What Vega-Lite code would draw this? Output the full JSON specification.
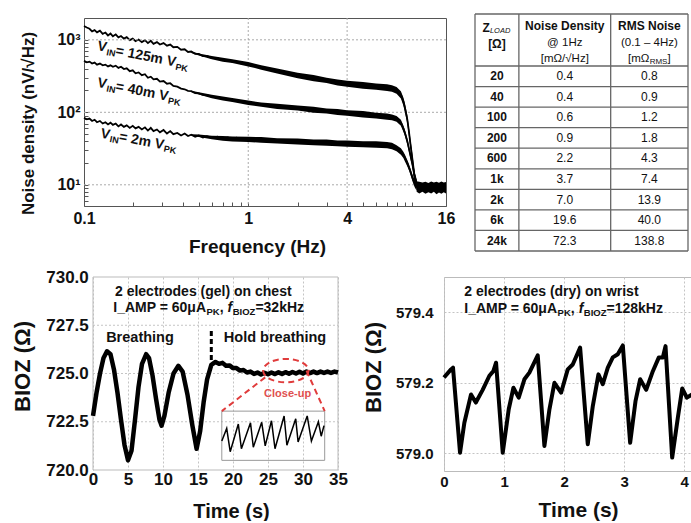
{
  "$schema": "https://vega.github.io/schema/vega-lite/v6.json",
  "background": "white",
  "padding": {"left": 11, "top": 13, "right": 0, "bottom": 0},
  "spacing": 11,
  "config": {
    "font": "Liberation Sans",
    "axis": {"labelColor": "#111", "titleColor": "#111", "labelFontWeight": "bold", "titleFontWeight": "bold", "labelFont": "Liberation Sans", "titleFont": "Liberation Sans"},
    "text": {"font": "Liberation Sans", "color": "#111"}
  },
  "datasets": {
    "noise": [
      {"s":"125","f":0.1,"v":1550},{"s":"125","f":0.104,"v":1480},{"s":"125","f":0.108,"v":1420},{"s":"125","f":0.112,"v":1310},{"s":"125","f":0.116,"v":1360},{"s":"125","f":0.12,"v":1270},{"s":"125","f":0.125,"v":1340},{"s":"125","f":0.13,"v":1210},{"s":"125","f":0.135,"v":1260},{"s":"125","f":0.14,"v":1150},{"s":"125","f":0.145,"v":1220},{"s":"125","f":0.15,"v":1120},{"s":"125","f":0.156,"v":1190},{"s":"125","f":0.162,"v":1080},{"s":"125","f":0.168,"v":1130},{"s":"125","f":0.175,"v":1040},{"s":"125","f":0.182,"v":1090},{"s":"125","f":0.19,"v":990},{"s":"125","f":0.198,"v":1040},{"s":"125","f":0.206,"v":960},{"s":"125","f":0.215,"v":1010},{"s":"125","f":0.225,"v":930},{"s":"125","f":0.235,"v":990},{"s":"125","f":0.245,"v":900},{"s":"125","f":0.255,"v":970},{"s":"125","f":0.265,"v":880},{"s":"125","f":0.278,"v":930},{"s":"125","f":0.29,"v":860},{"s":"125","f":0.305,"v":900},{"s":"125","f":0.32,"v":830},{"s":"125","f":0.335,"v":860},{"s":"125","f":0.35,"v":790},{"s":"125","f":0.37,"v":800},{"s":"125","f":0.39,"v":730},{"s":"125","f":0.41,"v":740},{"s":"125","f":0.43,"v":680},{"s":"125","f":0.45,"v":690},{"s":"125","f":0.475,"v":640},{"s":"125","f":0.5,"v":640},{"s":"125","f":0.53,"v":595},{"s":"125","f":0.56,"v":600},{"s":"125","f":0.6,"v":560},{"s":"125","f":0.65,"v":560},{"s":"125","f":0.7,"v":525},{"s":"125","f":0.75,"v":525},{"s":"125","f":0.8,"v":500},{"s":"125","f":0.85,"v":495},{"s":"125","f":0.9,"v":475},{"s":"125","f":0.95,"v":475},{"s":"125","f":1.0,"v":455},{"s":"125","f":1.2,"v":415},{"s":"125","f":1.5,"v":365},{"s":"125","f":2,"v":322},{"s":"125","f":2.5,"v":292},{"s":"125","f":3,"v":276},{"s":"125","f":3.5,"v":258},{"s":"125","f":4,"v":248},{"s":"125","f":5,"v":234},{"s":"125","f":6,"v":226},{"s":"125","f":7,"v":219},{"s":"125","f":7.5,"v":212},{"s":"125","f":8,"v":200},{"s":"125","f":8.5,"v":176},{"s":"125","f":8.8,"v":142},{"s":"125","f":9,"v":115},{"s":"125","f":9.3,"v":80},{"s":"125","f":9.5,"v":56},{"s":"125","f":9.7,"v":38},{"s":"125","f":10,"v":22},{"s":"125","f":10.3,"v":13},{"s":"125","f":10.6,"v":10},{"s":"125","f":11,"v":9.2},{"s":"125","f":12,"v":8.8},{"s":"125","f":13,"v":9.1},{"s":"125","f":14,"v":8.9},{"s":"125","f":15,"v":9.0},{"s":"125","f":16,"v":9.0},
      {"s":"40","f":0.1,"v":515},{"s":"40","f":0.104,"v":490},{"s":"40","f":0.108,"v":500},{"s":"40","f":0.112,"v":470},{"s":"40","f":0.116,"v":485},{"s":"40","f":0.12,"v":455},{"s":"40","f":0.125,"v":470},{"s":"40","f":0.13,"v":445},{"s":"40","f":0.135,"v":455},{"s":"40","f":0.14,"v":430},{"s":"40","f":0.145,"v":445},{"s":"40","f":0.15,"v":425},{"s":"40","f":0.156,"v":440},{"s":"40","f":0.162,"v":410},{"s":"40","f":0.168,"v":425},{"s":"40","f":0.175,"v":395},{"s":"40","f":0.182,"v":405},{"s":"40","f":0.19,"v":370},{"s":"40","f":0.198,"v":380},{"s":"40","f":0.206,"v":345},{"s":"40","f":0.215,"v":355},{"s":"40","f":0.225,"v":325},{"s":"40","f":0.235,"v":335},{"s":"40","f":0.245,"v":300},{"s":"40","f":0.255,"v":310},{"s":"40","f":0.265,"v":285},{"s":"40","f":0.278,"v":290},{"s":"40","f":0.29,"v":265},{"s":"40","f":0.305,"v":270},{"s":"40","f":0.32,"v":248},{"s":"40","f":0.335,"v":252},{"s":"40","f":0.35,"v":232},{"s":"40","f":0.37,"v":226},{"s":"40","f":0.39,"v":212},{"s":"40","f":0.41,"v":208},{"s":"40","f":0.43,"v":198},{"s":"40","f":0.45,"v":196},{"s":"40","f":0.475,"v":184},{"s":"40","f":0.5,"v":182},{"s":"40","f":0.53,"v":174},{"s":"40","f":0.56,"v":172},{"s":"40","f":0.6,"v":163},{"s":"40","f":0.65,"v":162},{"s":"40","f":0.7,"v":153},{"s":"40","f":0.75,"v":152},{"s":"40","f":0.8,"v":146},{"s":"40","f":0.85,"v":146},{"s":"40","f":0.9,"v":140},{"s":"40","f":0.95,"v":140},{"s":"40","f":1.0,"v":135},{"s":"40","f":1.2,"v":128},{"s":"40","f":1.5,"v":121},{"s":"40","f":2,"v":115},{"s":"40","f":2.5,"v":109},{"s":"40","f":3,"v":104},{"s":"40","f":3.5,"v":101},{"s":"40","f":4,"v":98},{"s":"40","f":5,"v":94},{"s":"40","f":6,"v":90},{"s":"40","f":7,"v":87},{"s":"40","f":7.5,"v":85},{"s":"40","f":8,"v":81},{"s":"40","f":8.5,"v":72},{"s":"40","f":8.8,"v":60},{"s":"40","f":9,"v":52},{"s":"40","f":9.3,"v":40},{"s":"40","f":9.5,"v":32},{"s":"40","f":9.7,"v":26},{"s":"40","f":10,"v":19},{"s":"40","f":10.3,"v":13},{"s":"40","f":10.6,"v":10},{"s":"40","f":11,"v":9.2},{"s":"40","f":12,"v":8.8},{"s":"40","f":13,"v":9.1},{"s":"40","f":14,"v":8.9},{"s":"40","f":15,"v":9.0},{"s":"40","f":16,"v":9.0},
      {"s":"2","f":0.1,"v":84},{"s":"2","f":0.104,"v":80},{"s":"2","f":0.108,"v":82},{"s":"2","f":0.112,"v":76},{"s":"2","f":0.116,"v":79},{"s":"2","f":0.12,"v":73},{"s":"2","f":0.125,"v":76},{"s":"2","f":0.13,"v":70},{"s":"2","f":0.135,"v":73},{"s":"2","f":0.14,"v":68},{"s":"2","f":0.145,"v":72},{"s":"2","f":0.15,"v":67},{"s":"2","f":0.156,"v":70},{"s":"2","f":0.162,"v":64},{"s":"2","f":0.168,"v":68},{"s":"2","f":0.175,"v":63},{"s":"2","f":0.182,"v":66},{"s":"2","f":0.19,"v":61},{"s":"2","f":0.198,"v":65},{"s":"2","f":0.206,"v":60},{"s":"2","f":0.215,"v":63},{"s":"2","f":0.225,"v":58},{"s":"2","f":0.235,"v":62},{"s":"2","f":0.245,"v":56},{"s":"2","f":0.255,"v":61},{"s":"2","f":0.265,"v":55},{"s":"2","f":0.278,"v":58},{"s":"2","f":0.29,"v":53},{"s":"2","f":0.305,"v":57},{"s":"2","f":0.32,"v":51},{"s":"2","f":0.335,"v":55},{"s":"2","f":0.35,"v":50},{"s":"2","f":0.37,"v":52},{"s":"2","f":0.39,"v":48},{"s":"2","f":0.41,"v":51},{"s":"2","f":0.43,"v":47},{"s":"2","f":0.45,"v":49},{"s":"2","f":0.475,"v":46},{"s":"2","f":0.5,"v":48},{"s":"2","f":0.53,"v":45},{"s":"2","f":0.56,"v":47},{"s":"2","f":0.6,"v":44.5},{"s":"2","f":0.65,"v":46},{"s":"2","f":0.7,"v":44},{"s":"2","f":0.75,"v":45},{"s":"2","f":0.8,"v":43},{"s":"2","f":0.85,"v":44.5},{"s":"2","f":0.9,"v":42.5},{"s":"2","f":0.95,"v":43.5},{"s":"2","f":1.0,"v":43},{"s":"2","f":1.2,"v":42},{"s":"2","f":1.5,"v":41},{"s":"2","f":2,"v":40},{"s":"2","f":2.5,"v":39},{"s":"2","f":3,"v":38},{"s":"2","f":3.5,"v":37.5},{"s":"2","f":4,"v":37},{"s":"2","f":5,"v":36.5},{"s":"2","f":6,"v":36},{"s":"2","f":7,"v":35.5},{"s":"2","f":7.5,"v":34.5},{"s":"2","f":8,"v":32},{"s":"2","f":8.5,"v":29},{"s":"2","f":8.8,"v":26},{"s":"2","f":9,"v":23.5},{"s":"2","f":9.3,"v":20},{"s":"2","f":9.5,"v":17.5},{"s":"2","f":9.7,"v":15.5},{"s":"2","f":10,"v":12.5},{"s":"2","f":10.3,"v":10.5},{"s":"2","f":10.6,"v":9.5},{"s":"2","f":11,"v":9.2},{"s":"2","f":12,"v":8.8},{"s":"2","f":13,"v":9.1},{"s":"2","f":14,"v":8.9},{"s":"2","f":15,"v":9.0},{"s":"2","f":16,"v":9.0}
    ],
    "band": [
      {"s":"125","f":0.45,"lo":660,"hi":690},{"s":"125","f":0.5,"lo":610,"hi":650},{"s":"125","f":0.6,"lo":540,"hi":600},{"s":"125","f":0.7,"lo":500,"hi":565},{"s":"125","f":0.8,"lo":478,"hi":540},{"s":"125","f":1.0,"lo":430,"hi":495},{"s":"125","f":1.2,"lo":388,"hi":445},{"s":"125","f":1.5,"lo":342,"hi":402},{"s":"125","f":2,"lo":296,"hi":352},{"s":"125","f":2.5,"lo":268,"hi":326},{"s":"125","f":3,"lo":253,"hi":300},{"s":"125","f":3.5,"lo":235,"hi":284},{"s":"125","f":4,"lo":226,"hi":272},{"s":"125","f":5,"lo":212,"hi":262},{"s":"125","f":6,"lo":205,"hi":250},{"s":"125","f":7,"lo":197,"hi":244},{"s":"125","f":7.5,"lo":192,"hi":236},{"s":"125","f":8,"lo":180,"hi":224},{"s":"125","f":8.5,"lo":155,"hi":196},{"s":"125","f":8.8,"lo":124,"hi":160},{"s":"125","f":9,"lo":100,"hi":132},{"s":"125","f":9.3,"lo":70,"hi":92},{"s":"125","f":9.5,"lo":48,"hi":63},{"s":"125","f":9.7,"lo":33,"hi":44},{"s":"125","f":10,"lo":19,"hi":26},{"s":"125","f":10.3,"lo":11.5,"hi":15},{"s":"125","f":10.6,"lo":8.5,"hi":12},
      {"s":"40","f":0.45,"lo":191,"hi":199},{"s":"40","f":0.5,"lo":176,"hi":189},{"s":"40","f":0.6,"lo":156,"hi":174},{"s":"40","f":0.7,"lo":145,"hi":165},{"s":"40","f":0.8,"lo":139,"hi":157},{"s":"40","f":1.0,"lo":126,"hi":145},{"s":"40","f":1.2,"lo":119,"hi":137},{"s":"40","f":1.5,"lo":111,"hi":131},{"s":"40","f":2,"lo":106,"hi":124},{"s":"40","f":2.5,"lo":99,"hi":119},{"s":"40","f":3,"lo":96,"hi":113},{"s":"40","f":3.5,"lo":92,"hi":111},{"s":"40","f":4,"lo":90,"hi":107},{"s":"40","f":5,"lo":85,"hi":104},{"s":"40","f":6,"lo":82,"hi":99},{"s":"40","f":7,"lo":79,"hi":96},{"s":"40","f":7.5,"lo":78,"hi":93},{"s":"40","f":8,"lo":74,"hi":89},{"s":"40","f":8.5,"lo":65,"hi":79},{"s":"40","f":8.8,"lo":54,"hi":66},{"s":"40","f":9,"lo":47,"hi":57},{"s":"40","f":9.3,"lo":36,"hi":44},{"s":"40","f":9.5,"lo":29,"hi":35},{"s":"40","f":9.7,"lo":23.5,"hi":28.5},{"s":"40","f":10,"lo":17,"hi":21},{"s":"40","f":10.3,"lo":11.5,"hi":14.5},{"s":"40","f":10.6,"lo":8.5,"hi":11.5},
      {"s":"2","f":0.45,"lo":47.5,"hi":50},{"s":"2","f":0.5,"lo":45.5,"hi":49.5},{"s":"2","f":0.6,"lo":42.5,"hi":47.5},{"s":"2","f":0.7,"lo":40.5,"hi":47},{"s":"2","f":0.8,"lo":39.5,"hi":46.5},{"s":"2","f":1.0,"lo":39,"hi":46},{"s":"2","f":1.2,"lo":38,"hi":45.5},{"s":"2","f":1.5,"lo":37,"hi":44},{"s":"2","f":2,"lo":36,"hi":43.5},{"s":"2","f":2.5,"lo":35,"hi":42},{"s":"2","f":3,"lo":34.5,"hi":42},{"s":"2","f":3.5,"lo":34,"hi":41},{"s":"2","f":4,"lo":33.5,"hi":41},{"s":"2","f":5,"lo":33,"hi":40},{"s":"2","f":6,"lo":32.5,"hi":40},{"s":"2","f":7,"lo":32,"hi":39},{"s":"2","f":7.5,"lo":31,"hi":38},{"s":"2","f":8,"lo":29,"hi":35},{"s":"2","f":8.5,"lo":26,"hi":32},{"s":"2","f":8.8,"lo":23.5,"hi":28.5},{"s":"2","f":9,"lo":21,"hi":26},{"s":"2","f":9.3,"lo":18,"hi":22},{"s":"2","f":9.5,"lo":16,"hi":19.5},{"s":"2","f":9.7,"lo":14,"hi":17},{"s":"2","f":10,"lo":11.2,"hi":13.8},{"s":"2","f":10.3,"lo":9.3,"hi":11.7},{"s":"2","f":10.6,"lo":8.3,"hi":11},
      {"s":"floor","f":10.6,"lo":8.0,"hi":11.2},{"s":"floor","f":11,"lo":7.6,"hi":11.0},{"s":"floor","f":11.5,"lo":8.0,"hi":10.8},{"s":"floor","f":12,"lo":7.5,"hi":11.0},{"s":"floor","f":12.5,"lo":7.9,"hi":10.6},{"s":"floor","f":13,"lo":7.6,"hi":11.1},{"s":"floor","f":13.5,"lo":8.0,"hi":10.8},{"s":"floor","f":14,"lo":7.4,"hi":11.0},{"s":"floor","f":14.5,"lo":7.8,"hi":10.7},{"s":"floor","f":15,"lo":7.5,"hi":11.1},{"s":"floor","f":15.5,"lo":7.9,"hi":10.8},{"s":"floor","f":16,"lo":7.6,"hi":10.9}
    ],
    "chest": [
      {"t":0,"y":722.8},{"t":0.5,"y":724.0},{"t":1.0,"y":725.0},{"t":1.5,"y":725.8},{"t":2.0,"y":726.15},{"t":2.5,"y":726.0},{"t":3.0,"y":725.2},{"t":3.5,"y":724.0},{"t":4.0,"y":722.6},{"t":4.5,"y":721.3},{"t":5.0,"y":720.5},{"t":5.5,"y":721.0},{"t":6.0,"y":722.6},{"t":6.5,"y":724.3},{"t":7.0,"y":725.5},{"t":7.6,"y":726.0},{"t":8.0,"y":725.8},{"t":8.5,"y":724.9},{"t":9.0,"y":723.7},{"t":9.5,"y":722.6},{"t":9.8,"y":722.3},{"t":10.2,"y":722.8},{"t":10.8,"y":724.0},{"t":11.5,"y":725.0},{"t":12.2,"y":725.4},{"t":12.8,"y":725.1},{"t":13.5,"y":723.9},{"t":14.2,"y":722.3},{"t":14.8,"y":721.1},{"t":15.3,"y":722.0},{"t":15.8,"y":723.5},{"t":16.3,"y":724.7},{"t":16.9,"y":725.45},{"t":17.5,"y":725.6},{"t":18.0,"y":725.5},{"t":18.5,"y":725.55},{"t":19.0,"y":725.4},{"t":19.5,"y":725.42},{"t":20.0,"y":725.28},{"t":20.5,"y":725.28},{"t":21.0,"y":725.15},{"t":21.5,"y":725.18},{"t":22.0,"y":725.05},{"t":22.5,"y":725.1},{"t":23.0,"y":724.98},{"t":23.5,"y":725.05},{"t":24.0,"y":724.95},{"t":24.5,"y":725.04},{"t":25.0,"y":724.96},{"t":25.5,"y":725.05},{"t":26.0,"y":724.97},{"t":26.5,"y":725.06},{"t":27.0,"y":724.98},{"t":27.5,"y":725.07},{"t":28.0,"y":724.99},{"t":28.5,"y":725.08},{"t":29.0,"y":725.0},{"t":29.5,"y":725.09},{"t":30.0,"y":725.0},{"t":30.5,"y":725.1},{"t":31.0,"y":725.02},{"t":31.5,"y":725.1},{"t":32.0,"y":725.02},{"t":32.5,"y":725.1},{"t":33.0,"y":725.03},{"t":33.5,"y":725.1},{"t":34.0,"y":725.03},{"t":34.5,"y":725.1},{"t":35.0,"y":725.05}
    ],
    "closeup": [
      {"t":18.4,"y":721.5},{"t":19.1,"y":722.15},{"t":19.6,"y":720.95},{"t":20.76,"y":722.38},{"t":21.2,"y":721.1},{"t":22.5,"y":722.45},{"t":22.9,"y":721.18},{"t":24.1,"y":722.47},{"t":24.6,"y":721.25},{"t":25.5,"y":722.55},{"t":26.0,"y":721.1},{"t":27.3,"y":722.8},{"t":27.7,"y":721.28},{"t":28.96,"y":722.65},{"t":29.3,"y":721.45},{"t":30.6,"y":722.8},{"t":31.2,"y":721.5},{"t":32.2,"y":722.5},{"t":32.6,"y":721.75},{"t":33.0,"y":722.3}
    ],
    "wrist": [
      {"t":0.0,"y":579.215},{"t":0.117,"y":579.238},{"t":0.15,"y":579.243},{"t":0.267,"y":579.002},{"t":0.339,"y":579.087},{"t":0.45,"y":579.167},{"t":0.53,"y":579.144},{"t":0.644,"y":579.18},{"t":0.756,"y":579.22},{"t":0.822,"y":579.233},{"t":0.867,"y":579.257},{"t":0.978,"y":579.002},{"t":1.078,"y":579.125},{"t":1.156,"y":579.186},{"t":1.244,"y":579.158},{"t":1.339,"y":579.21},{"t":1.422,"y":579.229},{"t":1.561,"y":579.278},{"t":1.672,"y":579.021},{"t":1.756,"y":579.125},{"t":1.839,"y":579.2},{"t":1.95,"y":579.172},{"t":2.061,"y":579.238},{"t":2.144,"y":579.252},{"t":2.267,"y":579.3},{"t":2.394,"y":579.026},{"t":2.478,"y":579.134},{"t":2.572,"y":579.224},{"t":2.644,"y":579.196},{"t":2.728,"y":579.243},{"t":2.811,"y":579.272},{"t":2.894,"y":579.281},{"t":2.978,"y":579.306},{"t":3.1,"y":579.03},{"t":3.189,"y":579.148},{"t":3.267,"y":579.21},{"t":3.367,"y":579.18},{"t":3.478,"y":579.233},{"t":3.578,"y":579.272},{"t":3.644,"y":579.272},{"t":3.689,"y":579.304},{"t":3.8,"y":578.988},{"t":3.894,"y":579.101},{"t":3.967,"y":579.184},{"t":4.044,"y":579.158},{"t":4.13,"y":579.167}
    ],
    "table": [
      {"i":0,"z":"20","nd":"0.4","rms":"0.8"},{"i":1,"z":"40","nd":"0.4","rms":"0.9"},{"i":2,"z":"100","nd":"0.6","rms":"1.2"},{"i":3,"z":"200","nd":"0.9","rms":"1.8"},{"i":4,"z":"600","nd":"2.2","rms":"4.3"},{"i":5,"z":"1k","nd":"3.7","rms":"7.4"},{"i":6,"z":"2k","nd":"7.0","rms":"13.9"},{"i":7,"z":"6k","nd":"19.6","rms":"40.0"},{"i":8,"z":"24k","nd":"72.3","rms":"138.8"}
    ]
  },
  "vconcat": [
    {
      "spacing": 18,
      "hconcat": [
        {
          "width": 362,
          "height": 188,
          "view": {"stroke": "#555", "strokeWidth": 1},
          "layer": [
            {
              "data": {"name": "noise"},
              "mark": {"type": "line", "color": "#000", "strokeWidth": 1.8},
              "encoding": {
                "x": {"field": "f", "type": "quantitative", "scale": {"type": "log", "domain": [0.1, 16], "nice": false},
                  "axis": {"values": [0.1,0.2,0.3,0.4,0.5,0.6,0.7,0.8,0.9,1,2,3,4,5,6,7,8,9,10,16],
                    "labelExpr": "datum.value == 0.1 ? '0.1' : datum.value == 1 ? '1' : datum.value == 4 ? '4' : datum.value == 16 ? '16' : ''",
                    "labelFontSize": 16, "labelFlush": false, "labelOverlap": false, "labelBound": false, "labelPadding": 8,
                    "tickSize": -4, "tickColor": "#555", "grid": false, "domain": false,
                    "title": "Frequency (Hz)", "titleFontSize": 19, "titleX": 173, "titleY": 40, "titleBaseline": "middle", "titleAlign": "center"}},
                "y": {"field": "v", "type": "quantitative", "scale": {"type": "log", "domain": [5.1, 2000], "nice": false},
                  "axis": {"values": [6,7,8,9,10,20,30,40,50,60,70,80,90,100,200,300,400,500,600,700,800,900,1000],
                    "labelExpr": "datum.value == 10 ? '10¹' : datum.value == 100 ? '10²' : datum.value == 1000 ? '10³' : ''",
                    "labelFontSize": 16, "labelFlush": false, "labelOverlap": false, "labelPadding": 8,
                    "tickSize": -4, "tickColor": "#555", "grid": false, "domain": false,
                    "title": "Noise density (nV/√Hz)", "titleFontSize": 17, "titleX": -56, "titleY": 105, "titleBaseline": "middle", "titleAlign": "center"}},
                "detail": {"field": "s"}
              }
            },
            {
              "data": {"values": [{"gx": 1}, {"gx": 4}]},
              "mark": {"type": "rule", "color": "#aaa", "strokeDash": [2, 2], "strokeWidth": 1},
              "encoding": {"x": {"field": "gx", "type": "quantitative"}}
            },
            {
              "data": {"values": [{"gy": 10}, {"gy": 100}, {"gy": 1000}]},
              "mark": {"type": "rule", "color": "#aaa", "strokeDash": [2, 2], "strokeWidth": 1},
              "encoding": {"y": {"field": "gy", "type": "quantitative"}}
            },
            {
              "data": {"name": "band"},
              "mark": {"type": "area", "color": "#000"},
              "encoding": {
                "x": {"field": "f", "type": "quantitative"},
                "y": {"field": "lo", "type": "quantitative"},
                "y2": {"field": "hi"},
                "detail": {"field": "s"}
              }
            },
            {
              "data": {"values": [
                {"f": 0.1195, "v": 721, "s": "V"}, {"f": 0.1546, "v": 621, "s": "= 125m V"},
                {"f": 0.1195, "v": 225, "s": "V"}, {"f": 0.1546, "v": 200, "s": "= 40m V"},
                {"f": 0.1252, "v": 44.9, "s": "V"}, {"f": 0.162, "v": 40.6, "s": "= 2m V"}
              ]},
              "mark": {"type": "text", "align": "left", "baseline": "alphabetic", "angle": 11, "fontSize": 14, "fontWeight": "bold", "color": "#111"},
              "encoding": {
                "x": {"field": "f", "type": "quantitative"},
                "y": {"field": "v", "type": "quantitative"},
                "text": {"field": "s"}
              }
            },
            {
              "data": {"values": [
                {"f": 0.1362, "v": 615, "s": "IN"}, {"f": 0.3578, "v": 387, "s": "PK"},
                {"f": 0.1362, "v": 193, "s": "IN"}, {"f": 0.3225, "v": 131.8, "s": "PK"},
                {"f": 0.1427, "v": 38.8, "s": "IN"}, {"f": 0.304, "v": 28.7, "s": "PK"}
              ]},
              "mark": {"type": "text", "align": "left", "baseline": "alphabetic", "angle": 11, "fontSize": 9, "fontWeight": "bold", "color": "#111"},
              "encoding": {
                "x": {"field": "f", "type": "quantitative"},
                "y": {"field": "v", "type": "quantitative"},
                "text": {"field": "s"}
              }
            }
          ]
        },
        {
          "width": 213,
          "height": 233,
          "view": {"stroke": null},
          "layer": [
            {
              "data": {"values": [{"y": -3.03}, {"y": -0.5}, {"y": 0.5}, {"y": 1.5}, {"y": 2.5}, {"y": 3.5}, {"y": 4.5}, {"y": 5.5}, {"y": 6.5}, {"y": 7.5}, {"y": 8.5}]},
              "mark": {"type": "rule", "color": "#666", "strokeWidth": 1.3},
              "encoding": {
                "y": {"field": "y", "type": "quantitative", "scale": {"domain": [8.5, -2.835], "nice": false, "zero": false}, "axis": null},
                "x": {"datum": 0, "type": "quantitative", "scale": {"domain": [0, 100], "nice": false, "zero": false}, "axis": null},
                "x2": {"datum": 100}
              }
            },
            {
              "data": {"values": [{"x": 0}, {"x": 20.6}, {"x": 63.7}, {"x": 100}]},
              "mark": {"type": "rule", "color": "#666", "strokeWidth": 1.3},
              "encoding": {
                "x": {"field": "x", "type": "quantitative", "scale": {"domain": [0, 100], "nice": false, "zero": false}, "axis": null},
                "y": {"datum": -3.03, "type": "quantitative", "scale": {"domain": [8.5, -2.835], "nice": false, "zero": false}, "axis": null},
                "y2": {"datum": 8.5}
              }
            },
            {
              "data": {"name": "table"},
              "mark": {"type": "text", "fontSize": 12, "fontWeight": "bold", "baseline": "middle"},
              "encoding": {
                "x": {"datum": 10.3, "type": "quantitative", "scale": {"domain": [0, 100], "nice": false, "zero": false}, "axis": null},
                "y": {"field": "i", "type": "quantitative", "scale": {"domain": [8.5, -2.835], "nice": false, "zero": false}, "axis": null},
                "text": {"field": "z"}
              }
            },
            {
              "data": {"name": "table"},
              "mark": {"type": "text", "fontSize": 12, "baseline": "middle"},
              "encoding": {
                "x": {"datum": 42.15, "type": "quantitative", "scale": {"domain": [0, 100], "nice": false, "zero": false}, "axis": null},
                "y": {"field": "i", "type": "quantitative", "scale": {"domain": [8.5, -2.835], "nice": false, "zero": false}, "axis": null},
                "text": {"field": "nd"}
              }
            },
            {
              "data": {"name": "table"},
              "mark": {"type": "text", "fontSize": 12, "baseline": "middle"},
              "encoding": {
                "x": {"datum": 81.85, "type": "quantitative", "scale": {"domain": [0, 100], "nice": false, "zero": false}, "axis": null},
                "y": {"field": "i", "type": "quantitative", "scale": {"domain": [8.5, -2.835], "nice": false, "zero": false}, "axis": null},
                "text": {"field": "rms"}
              }
            },
            {
              "data": {"values": [{"x": 42.15, "y": -2.446, "s": "Noise Density"}, {"x": 81.85, "y": -2.446, "s": "RMS Noise"}, {"x": 10.3, "y": -1.571, "s": "[Ω]"}]},
              "mark": {"type": "text", "fontSize": 12, "fontWeight": "bold", "baseline": "middle"},
              "encoding": {
                "x": {"field": "x", "type": "quantitative", "scale": {"domain": [0, 100], "nice": false, "zero": false}, "axis": null},
                "y": {"field": "y", "type": "quantitative", "scale": {"domain": [8.5, -2.835], "nice": false, "zero": false}, "axis": null},
                "text": {"field": "s"}
              }
            },
            {
              "data": {"values": [{"x": 42.15, "y": -1.62, "s": "@ 1Hz"}, {"x": 81.85, "y": -1.62, "s": "(0.1 – 4Hz)"}, {"x": 42.15, "y": -0.84, "s": "[mΩ/√Hz]"}]},
              "mark": {"type": "text", "fontSize": 11.5, "baseline": "middle"},
              "encoding": {
                "x": {"field": "x", "type": "quantitative", "scale": {"domain": [0, 100], "nice": false, "zero": false}, "axis": null},
                "y": {"field": "y", "type": "quantitative", "scale": {"domain": [8.5, -2.835], "nice": false, "zero": false}, "axis": null},
                "text": {"field": "s"}
              }
            },
            {
              "data": {"values": [{"x": 6.95, "y": -2.364, "s": "Z"}]},
              "mark": {"type": "text", "fontSize": 12, "fontWeight": "bold", "baseline": "middle", "align": "right"},
              "encoding": {
                "x": {"field": "x", "type": "quantitative", "scale": {"domain": [0, 100], "nice": false, "zero": false}, "axis": null},
                "y": {"field": "y", "type": "quantitative", "scale": {"domain": [8.5, -2.835], "nice": false, "zero": false}, "axis": null},
                "text": {"field": "s"}
              }
            },
            {
              "data": {"values": [{"x": 7.0, "y": -2.2, "s": "LOAD"}]},
              "mark": {"type": "text", "fontSize": 7.5, "fontStyle": "italic", "baseline": "middle", "align": "left"},
              "encoding": {
                "x": {"field": "x", "type": "quantitative", "scale": {"domain": [0, 100], "nice": false, "zero": false}, "axis": null},
                "y": {"field": "y", "type": "quantitative", "scale": {"domain": [8.5, -2.835], "nice": false, "zero": false}, "axis": null},
                "text": {"field": "s"}
              }
            },
            {
              "data": {"values": [{"x": 81.9, "y": -0.84, "s": "[mΩ"}]},
              "mark": {"type": "text", "fontSize": 11.5, "baseline": "middle", "align": "right"},
              "encoding": {
                "x": {"field": "x", "type": "quantitative", "scale": {"domain": [0, 100], "nice": false, "zero": false}, "axis": null},
                "y": {"field": "y", "type": "quantitative", "scale": {"domain": [8.5, -2.835], "nice": false, "zero": false}, "axis": null},
                "text": {"field": "s"}
              }
            },
            {
              "data": {"values": [{"x": 82.0, "y": -0.7, "s": "RMS"}]},
              "mark": {"type": "text", "fontSize": 8, "baseline": "middle", "align": "left"},
              "encoding": {
                "x": {"field": "x", "type": "quantitative", "scale": {"domain": [0, 100], "nice": false, "zero": false}, "axis": null},
                "y": {"field": "y", "type": "quantitative", "scale": {"domain": [8.5, -2.835], "nice": false, "zero": false}, "axis": null},
                "text": {"field": "s"}
              }
            },
            {
              "data": {"values": [{"x": 90.4, "y": -0.84, "s": "]"}]},
              "mark": {"type": "text", "fontSize": 11.5, "baseline": "middle", "align": "left"},
              "encoding": {
                "x": {"field": "x", "type": "quantitative", "scale": {"domain": [0, 100], "nice": false, "zero": false}, "axis": null},
                "y": {"field": "y", "type": "quantitative", "scale": {"domain": [8.5, -2.835], "nice": false, "zero": false}, "axis": null},
                "text": {"field": "s"}
              }
            }
          ]
        }
      ]
    },
    {
      "spacing": 13,
      "hconcat": [
        {
          "width": 254,
          "height": 193,
          "view": {"stroke": null},
          "encoding": {
            "x": {"field": "t", "type": "quantitative", "scale": {"domain": [-1.2857, 35], "nice": false, "zero": false},
              "axis": {"values": [0,5,10,15,20,25,30,35], "labelFontSize": 17, "labelPadding": 1, "labelFlush": false, "labelOverlap": false, "ticks": false, "domain": false,
                "grid": true, "gridColor": "#c4c4c4", "gridDash": [2, 2],
                "title": "Time (s)", "titleFontSize": 20, "titleX": 147, "titleY": 41, "titleBaseline": "middle", "titleAlign": "center"}},
            "y": {"field": "y", "type": "quantitative", "scale": {"domain": [720, 730], "nice": false, "zero": false},
              "axis": {"values": [720, 722.5, 725, 727.5, 730], "format": ".1f", "labelFontSize": 17, "labelPadding": -4.3, "labelFlush": false, "labelOverlap": false, "ticks": false, "domain": false,
                "grid": false,
                "title": "BIOZ (Ω)", "titleFontSize": 22, "titleX": -62, "titleY": 89, "titleBaseline": "middle", "titleAlign": "center"}}
          },
          "layer": [
            {
              "data": {"values": [{"t": 0, "t2": 35, "y": 722.5}, {"t": 0, "t2": 35, "y": 725}, {"t": 0, "t2": 35, "y": 727.5}]},
              "mark": {"type": "rule", "color": "#c4c4c4", "strokeWidth": 1, "strokeDash": [2, 2]},
              "encoding": {"x2": {"field": "t2"}}
            },
            {
              "data": {"values": [{"t": 0, "t2": 35, "y": 720, "y2": 730}]},
              "mark": {"type": "rect", "fillOpacity": 0, "stroke": "#bbb", "strokeWidth": 1},
              "encoding": {"x2": {"field": "t2"}, "y2": {"field": "y2"}}
            },
            {
              "data": {"values": [{"t": 18.4, "y": 720.5, "t2": 33.1, "y2": 723.05}]},
              "mark": {"type": "rect", "fillOpacity": 0, "stroke": "#999", "strokeWidth": 1},
              "encoding": {"x2": {"field": "t2"}, "y2": {"field": "y2"}}
            },
            {
              "data": {"name": "chest"},
              "mark": {"type": "line", "color": "#000", "strokeWidth": 4.5, "strokeJoin": "round"}
            },
            {
              "data": {"name": "closeup"},
              "mark": {"type": "line", "color": "#000", "strokeWidth": 1.5}
            },
            {
              "data": {"values": [{"t": 16.9, "y": 725.7, "y2": 727.2}]},
              "mark": {"type": "rule", "color": "#000", "strokeWidth": 3, "strokeDash": [5, 3]},
              "encoding": {"y2": {"field": "y2"}}
            },
            {
              "data": {"values": [{"t": 24.6, "y": 724.8, "t2": 18.4, "y2": 723.05}, {"t": 30.5, "y": 725.15, "t2": 33.1, "y2": 723.05}]},
              "mark": {"type": "rule", "color": "#e03c3c", "strokeWidth": 2, "strokeDash": [6, 4]},
              "encoding": {"x2": {"field": "t2"}, "y2": {"field": "y2"}}
            },
            {
              "data": {"values": [{"t": 27.55, "y": 725.15}]},
              "mark": {"type": "point", "shape": "M-1,0A1,0.514,0,1,0,1,0A1,0.514,0,1,0,-1,0Z", "size": 2070, "filled": false, "color": "#e03c3c", "strokeWidth": 2, "strokeDash": [6, 4], "opacity": 1}
            },
            {
              "data": {"values": [{"t": 27.8, "y": 723.94, "s": "Close-up"}]},
              "mark": {"type": "text", "fontSize": 11, "fontWeight": "bold", "color": "#e05050", "baseline": "middle"},
              "encoding": {"text": {"field": "s"}}
            },
            {
              "data": {"values": [{"t": 3.14, "y": 729.03, "s": "2 electrodes (gel) on chest"}, {"t": 2.9, "y": 728.17, "s": "I_AMP = 60μA"}, {"t": 18.1, "y": 728.17, "s": ","}, {"t": 23.2, "y": 728.17, "s": "=32kHz"}]},
              "mark": {"type": "text", "fontSize": 14, "fontWeight": "bold", "align": "left", "baseline": "alphabetic"},
              "encoding": {"text": {"field": "s"}}
            },
            {
              "data": {"values": [{"t": 19.21, "y": 728.17, "s": "f"}]},
              "mark": {"type": "text", "fontSize": 14, "fontWeight": "bold", "fontStyle": "italic", "align": "left", "baseline": "alphabetic"},
              "encoding": {"text": {"field": "s"}}
            },
            {
              "data": {"values": [{"t": 16.21, "y": 728.02, "s": "PK"}, {"t": 19.96, "y": 728.02, "s": "BIOZ"}]},
              "mark": {"type": "text", "fontSize": 9.5, "fontWeight": "bold", "align": "left", "baseline": "alphabetic"},
              "encoding": {"text": {"field": "s"}}
            },
            {
              "data": {"values": [{"t": 6.71, "y": 726.62, "s": "Breathing"}, {"t": 26.0, "y": 726.62, "s": "Hold breathing"}]},
              "mark": {"type": "text", "fontSize": 14.5, "fontWeight": "bold", "align": "center", "baseline": "alphabetic"},
              "encoding": {"text": {"field": "s"}}
            }
          ]
        },
        {
          "width": 248,
          "height": 194,
          "view": {"stroke": "#bbb"},
          "encoding": {
            "x": {"field": "t", "type": "quantitative", "scale": {"domain": [0, 4.13], "nice": false, "zero": false},
              "axis": {"values": [0, 1, 2, 3, 4], "labelFontSize": 15, "labelPadding": 3, "labelFlush": false, "labelOverlap": false, "ticks": false, "domain": false,
                "grid": true, "gridColor": "#c4c4c4", "gridDash": [2, 2],
                "title": "Time (s)", "titleFontSize": 21, "titleX": 134, "titleY": 39, "titleBaseline": "middle", "titleAlign": "center"}},
            "y": {"field": "y", "type": "quantitative", "scale": {"domain": [578.95, 579.5], "nice": false, "zero": false},
              "axis": {"values": [579.0, 579.2, 579.4], "format": ".1f", "labelFontSize": 15, "labelPadding": 11, "labelFlush": false, "labelOverlap": false, "ticks": false, "domain": false,
                "grid": true, "gridColor": "#c4c4c4", "gridDash": [2, 2],
                "title": "BIOZ (Ω)", "titleFontSize": 22, "titleX": -71, "titleY": 90, "titleBaseline": "middle", "titleAlign": "center"}}
          },
          "layer": [
            {
              "data": {"name": "wrist"},
              "mark": {"type": "line", "color": "#000", "strokeWidth": 4, "strokeJoin": "round"}
            },
            {
              "data": {"values": [{"t": 0.338, "y": 579.446, "s": "2 electrodes (dry) on wrist"}, {"t": 0.338, "y": 579.399, "s": "I_AMP = 60μA"}, {"t": 2.112, "y": 579.399, "s": ","}, {"t": 2.707, "y": 579.399, "s": "=128kHz"}]},
              "mark": {"type": "text", "fontSize": 14, "fontWeight": "bold", "align": "left", "baseline": "alphabetic"},
              "encoding": {"text": {"field": "s"}}
            },
            {
              "data": {"values": [{"t": 2.242, "y": 579.399, "s": "f"}]},
              "mark": {"type": "text", "fontSize": 14, "fontWeight": "bold", "fontStyle": "italic", "align": "left", "baseline": "alphabetic"},
              "encoding": {"text": {"field": "s"}}
            },
            {
              "data": {"values": [{"t": 1.892, "y": 579.39, "s": "PK"}, {"t": 2.328, "y": 579.39, "s": "BIOZ"}]},
              "mark": {"type": "text", "fontSize": 9.5, "fontWeight": "bold", "align": "left", "baseline": "alphabetic"},
              "encoding": {"text": {"field": "s"}}
            }
          ]
        }
      ]
    }
  ]
}
